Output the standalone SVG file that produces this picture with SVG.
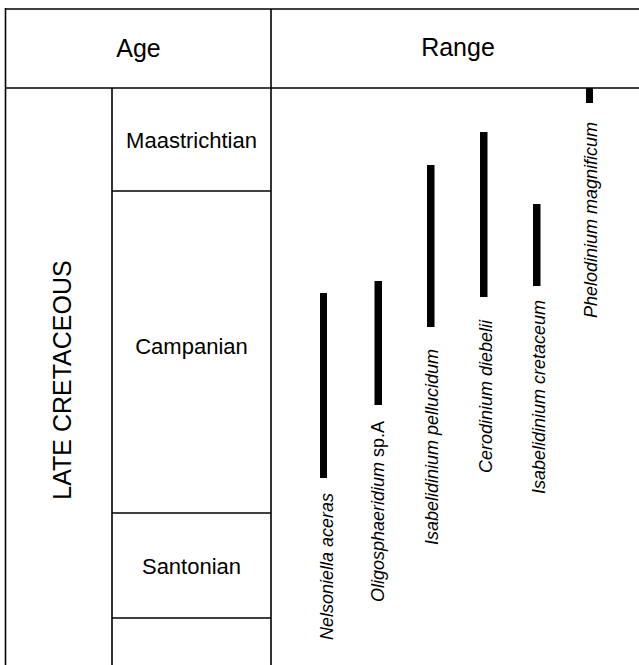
<svg xmlns="http://www.w3.org/2000/svg" width="639" height="665" viewBox="0 0 639 665">
<style>
.ln{stroke:#000;stroke-width:1.6;fill:none}
.hd{font-family:"Liberation Sans",Arial,sans-serif;font-size:25px;fill:#000;text-anchor:middle}
.st{font-family:"Liberation Sans",Arial,sans-serif;font-size:22px;fill:#000;text-anchor:middle}
.sp{font-family:"Liberation Sans",Arial,sans-serif;font-size:18px;font-style:italic;fill:#000}
.bar{fill:#000}
</style>
<rect width="639" height="665" fill="#fff"/>
<g id="grid">
<line class="ln" x1="5" y1="9" x2="639" y2="9" stroke-width="2.2"/>
<line class="ln" x1="5" y1="88" x2="639" y2="88" stroke-width="2"/>
<line class="ln" x1="5.5" y1="8" x2="5.5" y2="665" stroke-width="2"/>
<line class="ln" x1="271" y1="9" x2="271" y2="665"/>
<line class="ln" x1="112" y1="88" x2="112" y2="665"/>
<line class="ln" x1="112" y1="191" x2="271" y2="191"/>
<line class="ln" x1="112" y1="513" x2="271" y2="513"/>
<line class="ln" x1="112" y1="618" x2="271" y2="618"/>
</g>
<g id="header-age"><text class="hd" x="138.5" y="57">Age</text></g>
<g id="header-range"><text class="hd" x="458" y="56">Range</text></g>
<g id="late-cretaceous"><text class="hd" x="71" y="380" font-size="25.5" transform="rotate(-90 71 380)">LATE CRETACEOUS</text></g>
<g id="maastrichtian"><text class="st" x="191.5" y="148">Maastrichtian</text></g>
<g id="campanian"><text class="st" x="191.5" y="354">Campanian</text></g>
<g id="santonian"><text class="st" x="191.5" y="574">Santonian</text></g>
<g id="nelsoniella">
<rect class="bar" x="320" y="293" width="7" height="185"/>
<text class="sp" x="333" y="640" transform="rotate(-90 333 640)">Nelsoniella aceras</text>
</g>
<g id="oligosphaeridium">
<rect class="bar" x="374.5" y="281" width="7.5" height="124"/>
<text class="sp" x="384" y="602" transform="rotate(-90 384 602)">Oligosphaeridium <tspan font-style="normal">sp.A</tspan></text>
</g>
<g id="isabelidinium-pellucidum">
<rect class="bar" x="427" y="165" width="7.5" height="162"/>
<text class="sp" x="438" y="545" transform="rotate(-90 438 545)">Isabelidinium pellucidum</text>
</g>
<g id="cerodinium">
<rect class="bar" x="480" y="132" width="7.5" height="165"/>
<text class="sp" x="492" y="473" transform="rotate(-90 492 473)">Cerodinium diebelii</text>
</g>
<g id="isabelidinium-cretaceum">
<rect class="bar" x="533" y="204" width="7.5" height="82"/>
<text class="sp" x="545" y="494" transform="rotate(-90 545 494)">Isabelidinium cretaceum</text>
</g>
<g id="phelodinium">
<rect class="bar" x="586" y="88" width="7" height="15"/>
<text class="sp" x="597" y="318" transform="rotate(-90 597 318)">Phelodinium magnificum</text>
</g>
</svg>
